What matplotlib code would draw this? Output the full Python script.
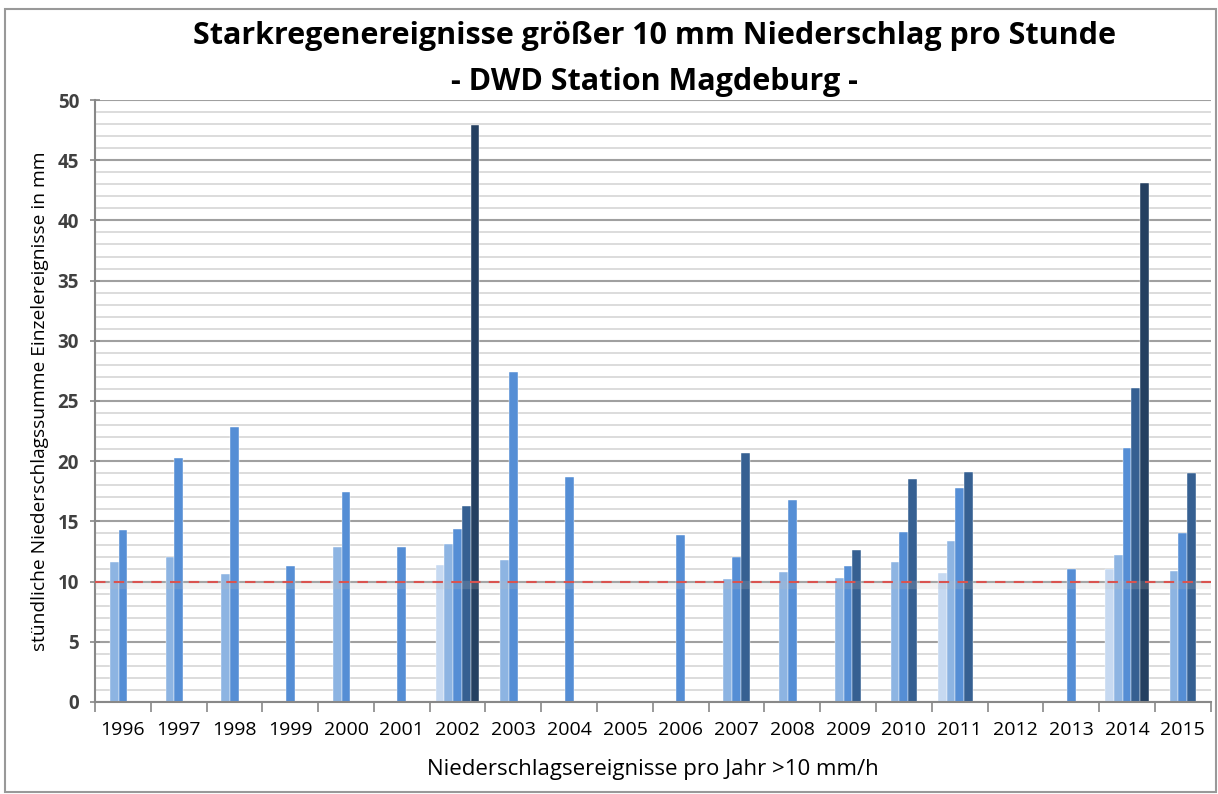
import numpy as np
import matplotlib.pyplot as plt
from matplotlib.patches import Rectangle

plt.rcParams['font.family'] = ['Open Sans', 'DejaVu Sans']

years = [str(y) for y in range(1996, 2016)]
# five event slots per year, sorted ascending (nan = no event)
n = np.nan
ev1 = [n, n, n, n, n, n, 11.4, n, n, n, n, n, n, n, n, 10.7, n, n, 11.0, n]
ev2 = [11.6, 12.0, 10.6, n, 12.9, n, 13.1, 11.8, n, n, n, 10.2, 10.8, 10.3, 11.6, 13.4, n, n, 12.2, 10.9]
ev3 = [14.3, 20.3, 22.8, 11.3, 17.4, 12.9, 14.4, 27.4, 18.7, n, 13.9, 12.0, 16.8, 11.3, 14.1, 17.8, n, 11.0, 21.1, 14.0]
ev4 = [n, n, n, n, n, n, 16.3, n, n, n, n, 20.7, n, 12.6, 18.5, 19.1, n, n, 26.1, 19.0]
ev5 = [n, n, n, n, n, n, 47.9, n, n, n, n, n, n, n, n, n, n, n, 43.1, n]
series = [ev1, ev2, ev3, ev4, ev5]
colors = ['#C6D9F1', '#8DB4E2', '#558ED5', '#366092', '#254061']
threshold = 10

fig = plt.figure(figsize=(12.18, 7.94), dpi=100)
ax = fig.add_axes([0.078, 0.116, 0.916, 0.758])

x = np.arange(len(years))
w = 0.157
for i, (vals, c) in enumerate(zip(series, colors)):
    ax.bar(x + (i - 2) * w, vals, width=w, color=c, edgecolor='white', linewidth=0.3, zorder=2)

# grid
ax.set_ylim(0, 50)
ax.set_xlim(-0.5, len(years) - 0.5)
ax.set_yticks(range(0, 51, 5))
ax.set_yticks(range(0, 51, 1), minor=True)
ax.grid(axis='y', which='minor', color='#DCDCDC', linewidth=1.4, zorder=0)
ax.grid(axis='y', which='major', color='#A0A0A0', linewidth=1.5, zorder=1)

# threshold line with soft shadow
ax.axhline(threshold - 0.25, color='#BBBBBB', linewidth=6, alpha=0.2, zorder=3)
ax.axhline(threshold, color='#D9534F', linewidth=1.5, linestyle=(0, (5, 4)), zorder=4)

ax.set_xticks(x)
ax.set_xticklabels(years, fontsize=14)
ax.set_xticks(np.arange(len(years) + 1) - 0.5, minor=True)
ax.tick_params(axis='x', which='major', length=0, pad=14)
ax.tick_params(axis='x', which='minor', length=7, width=1.2, color='#888888', direction='out')
ax.tick_params(axis='y', which='major', length=7, width=1.2, color='#888888', direction='inout', labelsize=13.5, pad=8)
ax.tick_params(axis='y', which='minor', length=0)
for lab in ax.get_yticklabels():
    lab.set_fontweight('bold')
    lab.set_color('#404040')

for s in ['top', 'right']:
    ax.spines[s].set_visible(False)
for s in ['left', 'bottom']:
    ax.spines[s].set_color('#888888')
    ax.spines[s].set_linewidth(1.5)

ax.set_xlabel('Niederschlagsereignisse pro Jahr >10 mm/h', fontsize=16, labelpad=14)
ax.set_ylabel('stündliche Niederschlagssumme Einzelereignisse in mm', fontsize=13.8, labelpad=6)

fig.text(0.537, 0.955, 'Starkregenereignisse größer 10 mm Niederschlag pro Stunde',
         ha='center', va='center', fontsize=22, fontweight='bold')
fig.text(0.537, 0.897, '- DWD Station Magdeburg -',
         ha='center', va='center', fontsize=22, fontweight='bold')

fig.patches.append(Rectangle((0.004, 0.003), 0.994, 0.986, transform=fig.transFigure,
                             fill=False, edgecolor='#999999', linewidth=1.5))

plt.savefig('out.png', dpi=100)
